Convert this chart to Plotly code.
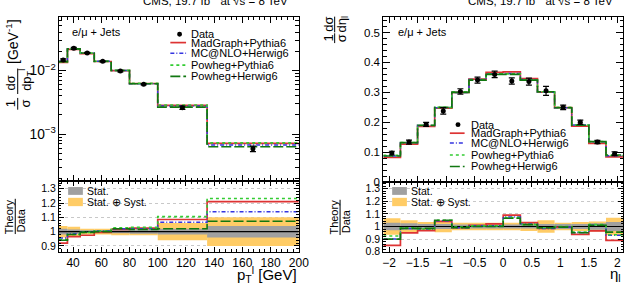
import plotly.graph_objects as go

# ---------------- data ----------------
pt_edges = [30, 36, 45, 55, 67, 80, 100, 135, 200]
pt_data = [0.0146, 0.0223, 0.0189, 0.0139, 0.00977, 0.00609, 0.00260, 0.000590]
pt_ratio_madgraph = [0.92, 0.965, 0.975, 0.995, 1.015, 1.025, 1.085, 1.21]
pt_ratio_mcnlo = [0.955, 0.985, 0.995, 1.005, 1.02, 1.02, 1.065, 1.14]
pt_ratio_powpy = [0.945, 0.98, 0.995, 1.005, 1.027, 1.03, 1.105, 1.232]
pt_ratio_powhw = [0.94, 0.98, 0.995, 1.0, 1.02, 1.015, 1.02, 1.073]
pt_stat = [0.02, 0.015, 0.01, 0.01, 0.012, 0.015, 0.02, 0.04]
pt_total = [0.04, 0.035, 0.02, 0.02, 0.025, 0.025, 0.06, 0.10]

eta_edges = [-2.1, -1.8, -1.5, -1.2, -0.9, -0.6, -0.3, 0.0, 0.3, 0.6, 0.9, 1.2, 1.5, 1.8, 2.1]
eta_data = [0.097, 0.134, 0.193, 0.238, 0.303, 0.341, 0.360, 0.338, 0.336, 0.305, 0.250, 0.200, 0.134, 0.095]
eta_ratio_madgraph = [0.85, 0.95, 0.967, 1.04, 0.99, 1.01, 1.02, 1.09, 1.03, 0.985, 0.995, 0.937, 0.965, 0.89]
eta_ratio_mcnlo = [0.90, 0.985, 0.98, 1.045, 0.99, 1.005, 1.005, 1.075, 1.02, 0.985, 0.995, 0.953, 1.01, 0.93]
eta_ratio_powpy = [0.925, 0.99, 0.98, 1.05, 0.995, 1.005, 1.005, 1.07, 1.015, 0.99, 1.0, 0.955, 1.015, 0.935]
eta_ratio_powhw = [0.90, 0.985, 0.985, 1.05, 0.99, 1.0, 1.0, 1.065, 1.015, 0.99, 0.995, 0.95, 1.01, 0.955]
eta_stat = [0.03, 0.025, 0.02, 0.02, 0.015, 0.015, 0.015, 0.015, 0.015, 0.02, 0.02, 0.02, 0.025, 0.035]
eta_total = [0.065, 0.05, 0.035, 0.045, 0.03, 0.03, 0.03, 0.03, 0.035, 0.05, 0.03, 0.035, 0.04, 0.07]

model_names = ["MadGraph+Pythia6", "MC@NLO+Herwig6", "Powheg+Pythia6", "Powheg+Herwig6"]
title_text = "CMS, 19.7 fb<sup>-1</sup> at √s = 8 TeV"

# ---------------- style ----------------
W, H = 640, 290
FONT = "Liberation Sans, Arial, Helvetica, sans-serif"
styles = [
    dict(color="#dd3333", dash="solid", width=1.7),
    dict(color="#3535e0", dash="4px,2px,1px,2px", width=1.5),
    dict(color="#33cc33", dash="3px,3px", width=1.6),
    dict(color="#117711", dash="10px,3px", width=1.6),
]
ORANGE = "#ffcc66"
GRAY = "#a0a0a0"


def fx(p):
    return p / W


def fy(p):
    return 1 - p / H


fig = go.Figure()


def centers(edges):
    return [(a + b) / 2 for a, b in zip(edges[:-1], edges[1:])]


def widths(edges):
    return [b - a for a, b in zip(edges[:-1], edges[1:])]


def add_band(edges, frac, color, xa, ya):
    fig.add_trace(go.Bar(x=centers(edges), y=[2 * f for f in frac], base=[1 - f for f in frac],
                         width=widths(edges), marker=dict(color=color, line=dict(width=0)),
                         xaxis=xa, yaxis=ya, hoverinfo="skip"))


def add_step(edges, vals, st, xa, ya):
    fig.add_trace(go.Scatter(x=edges, y=list(vals) + [vals[-1]], mode="lines",
                             line=dict(shape="hv", **st), xaxis=xa, yaxis=ya, hoverinfo="skip"))


def panel(edges, data, ratios, stat, total, xt, yt, xr, yr):
    # ratio panel
    add_band(edges, total, ORANGE, xr, yr)
    add_band(edges, stat, GRAY, xr, yr)
    fig.add_trace(go.Scatter(x=[edges[0], edges[-1]], y=[1, 1], mode="lines",
                             line=dict(color="black", width=1.2), xaxis=xr, yaxis=yr))
    for r, st in zip(ratios, styles):
        add_step(edges, r, st, xr, yr)
    # top panel
    for r, st in zip(ratios, styles):
        add_step(edges, [d * q for d, q in zip(data, r)], st, xt, yt)
    fig.add_trace(go.Scatter(x=centers(edges), y=data, mode="markers",
                             marker=dict(color="black", size=5),
                             error_y=dict(type="data", array=[d * t for d, t in zip(data, total)],
                                          color="black", thickness=1.2, width=3),
                             xaxis=xt, yaxis=yt))


panel(pt_edges, pt_data, [pt_ratio_madgraph, pt_ratio_mcnlo, pt_ratio_powpy, pt_ratio_powhw],
      pt_stat, pt_total, "x", "y", "x2", "y2")
panel(eta_edges, eta_data, [eta_ratio_madgraph, eta_ratio_mcnlo, eta_ratio_powpy, eta_ratio_powhw],
      eta_stat, eta_total, "x3", "y3", "x4", "y4")

XL = [fx(59), fx(303)]
XR = [fx(389), fx(633)]
common = dict(showline=True, linecolor="black", linewidth=1, mirror="allticks", ticks="inside",
              tickcolor="black", showgrid=False, zeroline=False,
              tickfont=dict(family=FONT, size=12, color="black"))


def minor(d, ln):
    return dict(ticks="inside", dtick=d, ticklen=ln, tickcolor="black", showgrid=False)


fig.update_layout(
    width=W, height=H, margin=dict(l=0, r=0, t=0, b=0),
    paper_bgcolor="white", plot_bgcolor="white", showlegend=False, barmode="overlay",
    font=dict(family=FONT, color="black"),
    xaxis=dict(common, domain=XL, range=[30, 200], anchor="y", dtick=20, tick0=0, ticklen=6,
               minor=minor(4, 3), showticklabels=False),
    yaxis=dict(common, domain=[fy(185), fy(17)], type="log", range=[-3.74, -1.154], anchor="x",
               dtick=1, exponentformat="power", ticklen=7, minor=minor("D1", 3.5),
               tickfont=dict(family=FONT, size=11, color="black")),
    xaxis2=dict(common, domain=XL, range=[30, 200], anchor="y2", dtick=20, tick0=0, ticklen=5,
                minor=minor(4, 3)),
    yaxis2=dict(common, domain=[fy(257), fy(185)], range=[0.86, 1.353], anchor="x2", dtick=0.1,
                tick0=0, ticklen=5, minor=minor(0.02, 2.5), showgrid=True, gridcolor="#c8c8c8",
                griddash="dot", tickfont=dict(family=FONT, size=10.5, color="black")),
    xaxis3=dict(common, domain=XR, range=[-2.1, 2.1], anchor="y3", dtick=0.5, tick0=0, ticklen=6,
                minor=minor(0.1, 3), showticklabels=False),
    yaxis3=dict(common, domain=[fy(186), fy(17)], range=[0, 0.553], anchor="x3", dtick=0.1,
                tick0=0, ticklen=7, minor=minor(0.02, 3.5),
                tickfont=dict(family=FONT, size=11.5, color="black")),
    xaxis4=dict(common, domain=XR, range=[-2.1, 2.1], anchor="y4", dtick=0.5, tick0=0, ticklen=5,
                minor=minor(0.1, 3)),
    yaxis4=dict(common, domain=[fy(257), fy(186)], range=[0.8, 1.352], anchor="x4", dtick=0.1,
                tick0=0, ticklen=5, minor=minor(0.02, 2.5), showgrid=True, gridcolor="#c8c8c8",
                griddash="dot", tickfont=dict(family=FONT, size=10.5, color="black")),
)

anns = []
shapes = []


def ann(text, x, y, size, angle=0, xa="center", ya="middle"):
    anns.append(dict(text=text, x=fx(x), y=fy(y), xref="paper", yref="paper", showarrow=False,
                     textangle=angle, xanchor=xa, yanchor=ya,
                     font=dict(family=FONT, size=size, color="black")))


def hline(x0, x1, y, st):
    shapes.append(dict(type="line", xref="paper", yref="paper", x0=fx(x0), x1=fx(x1), y0=fy(y), y1=fy(y),
                       line=dict(color=st["color"], dash=st["dash"], width=st["width"])))


def vbar(x, y0, y1):
    shapes.append(dict(type="line", xref="paper", yref="paper", x0=fx(x), x1=fx(x), y0=fy(y0), y1=fy(y1),
                       line=dict(color="black", width=1)))


def rect(x0, x1, y0, y1, color):
    shapes.append(dict(type="rect", xref="paper", yref="paper", x0=fx(x0), x1=fx(x1), y0=fy(y1), y1=fy(y0),
                       fillcolor=color, line=dict(width=0)))


def dot(x, y, r=2.5):
    shapes.append(dict(type="circle", xref="paper", yref="paper", x0=fx(x - r), x1=fx(x + r),
                       y0=fy(y + r), y1=fy(y - r), fillcolor="black", line=dict(width=0)))


# titles
ann(title_text, 218.5, 9, 11.5, ya="bottom")
ann(title_text, 548.5, 9, 11.5, ya="bottom")

# channel labels
ann("e/μ + Jets", 70, 33, 11, xa="left")
ann("e/μ + Jets", 401.5, 33, 11, xa="left")


# legends (top panels)
def legend(xl0, xl1, xt, xdot, rows):
    dot(xdot, rows[0])
    ann("Data", xt, rows[0], 11, xa="left")
    for name, st, y in zip(model_names, styles, rows[1:]):
        hline(xl0, xl1, y, st)
        ann(name, xt, y, 11, xa="left")


legend(172.3, 188.3, 191.5, 181.7, [35, 43.5, 54.5, 66.5, 78])
legend(456.7, 471.7, 476.5, 465, [127.3, 136, 146, 158.3, 170])


# ratio legends
def rlegend(x0):
    rect(x0, x0 + 15, 191, 199, GRAY)
    rect(x0, x0 + 15, 202, 210.5, ORANGE)
    ann("Stat.", x0 + 17, 195, 10.5, xa="left")
    ann("Stat. ⊕ Syst.", x0 + 17, 206, 10.5, xa="left")


rlegend(68.3)
rlegend(398)

# y-axis titles, left top
ann("[GeV<sup>-1</sup>]", 11, 42, 14, -90)
ann("1", 9.5, 106, 13, -90)
ann("σ", 25, 106, 13, -90)
vbar(17, 100, 112)
ann("dσ", 9.5, 85, 13, -90)
ann("dp<sub>T</sub><sup>l</sup>", 26, 82, 13, -90)
vbar(17, 70, 96)
# right top
ann("1", 333, 39, 13, -90)
ann("σ", 346, 39, 13, -90)
vbar(339.5, 34, 44)
ann("dσ", 333, 25, 13, -90)
ann("dη<sub>l</sub>", 347, 25, 13, -90)
vbar(339.5, 17, 33)
# ratio titles
ann("Theory", 9, 221, 11, -90)
ann("Data", 20.5, 225, 11, -90)
vbar(14.5, 203, 239)
ann("Theory", 339, 222, 11, -90)
ann("Data", 351, 226, 11, -90)
vbar(345, 204, 240)

# x-axis titles
ann("p<sub>T</sub><sup>l</sup> [GeV]", 303, 280, 15, xa="right")
ann("η<sub>l</sub>", 633, 280, 15, xa="right")

fig.update_layout(annotations=anns, shapes=shapes)
fig.write_html("out.html")
